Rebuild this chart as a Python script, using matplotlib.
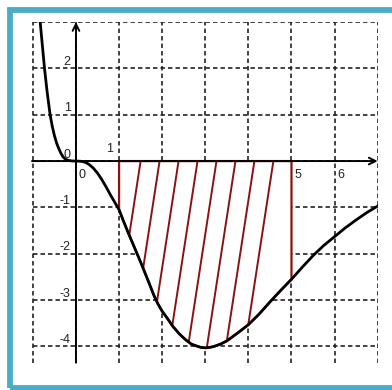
import matplotlib
matplotlib.use("Agg")
import matplotlib.pyplot as plt
from matplotlib.patches import Polygon, Rectangle

plt.rcParams['font.family'] = ['Liberation Sans', 'DejaVu Sans']
plt.rcParams['lines.scale_dashes'] = False

# curve
curve_x = [-0.83, -0.78, -0.73, -0.67, -0.60, -0.55, -0.50, -0.45, -0.40, -0.35, -0.30,
           -0.25, -0.18, -0.10, 0.0, 0.1, 0.2, 0.3, 0.4, 0.5, 0.6, 0.7, 0.8, 0.9,
           1.0, 1.1, 1.2, 1.3, 1.4, 1.5, 1.6, 1.7, 1.8, 1.9, 2.0, 2.14, 2.25, 2.41,
           2.55, 2.68, 2.8, 2.9, 3.0, 3.1, 3.2, 3.35, 3.5, 3.75, 4.0, 4.25, 4.5,
           4.75, 5.0, 5.25, 5.5, 5.75, 6.0, 6.25, 6.5, 6.75, 7.0]
curve_y = [3.0, 2.5, 2.0, 1.5, 1.0, 0.75, 0.55, 0.39, 0.27, 0.17, 0.09,
           0.045, 0.015, 0.003, 0.0, -0.003, -0.02, -0.07, -0.15, -0.26, -0.40, -0.56, -0.73, -0.89,
           -1.05, -1.29, -1.52, -1.74, -1.96, -2.18, -2.41, -2.64, -2.88, -3.08, -3.24, -3.42, -3.57, -3.74,
           -3.86, -3.95, -3.99, -4.02, -4.03, -4.02, -4.0, -3.95, -3.88, -3.71, -3.53, -3.30, -3.04,
           -2.79, -2.55, -2.29, -2.04, -1.82, -1.63, -1.44, -1.27, -1.11, -0.97]

# shaded interval
area_a, area_b = 1.0, 5.0

x_ticks = [1, 5, 6]
y_ticks = [2, 1, 0, -1, -2, -3, -4]

xmin, xmax = -1.02, 7.0
ymin, ymax = -4.35, 3.0

red = '#8b1212'
teal = '#4aacc5'

fig = plt.figure(figsize=(3.92, 3.90), dpi=100)
ax = fig.add_axes([32 / 392, 27.3 / 390, 345.7 / 392, 340.7 / 390])
ax.set_xlim(xmin, xmax)
ax.set_ylim(ymin, ymax)
ax.axis('off')

# dashed grid
for gx in range(-1, 8):
    ax.plot([gx, gx], [ymin, ymax], color='#222222', lw=1.2, dashes=(3.2, 2.2), zorder=1)
for gy in range(-4, 4):
    ax.plot([-1, 7], [gy, gy], color='#222222', lw=1.2, dashes=(3.2, 2.2), zorder=1)

# hatched region between the curve and the x axis
region = [(area_a, 0.0)]
region += [(x, y) for x, y in zip(curve_x, curve_y) if area_a <= x <= area_b]
region += [(area_b, 0.0)]
poly = Polygon(region, closed=True, facecolor='white', edgecolor=red, lw=1.6, zorder=2)
ax.add_patch(poly)

hatch_start, hatch_step, hatch_slope = 1.50, 0.44, 0.165
xt = hatch_start
while xt < area_b - 0.1:
    ln, = ax.plot([xt, xt - hatch_slope * 4.6], [0, -4.6], color=red, lw=1.4, zorder=3)
    ln.set_clip_path(poly)
    xt += hatch_step

# axes with arrows
ax.annotate('', xy=(xmax, 0), xytext=(xmin, 0),
            arrowprops=dict(arrowstyle='->', lw=1.4, color='black',
                            mutation_scale=12, shrinkA=0, shrinkB=0), zorder=4)
ax.annotate('', xy=(0, ymax), xytext=(0, ymin),
            arrowprops=dict(arrowstyle='->', lw=1.4, color='black',
                            mutation_scale=12, shrinkA=0, shrinkB=0), zorder=4)

# the curve
ax.plot(curve_x, curve_y, color='black', lw=2.0, solid_joinstyle='round', zorder=5)

# labels
fs = 9
for v in y_ticks:
    ax.text(-0.12, v + 0.14, str(v), ha='right', va='center', fontsize=fs, color='#222222', zorder=6)
ax.text(0.15, -0.3, '0', ha='center', va='center', fontsize=fs, color='#222222', zorder=6)
ax.text(0.77, 0.25, str(x_ticks[0]), ha='center', va='center', fontsize=fs, color='#222222', zorder=6)
for v in x_ticks[1:]:
    ax.text(v + 0.14, -0.3, str(v), ha='center', va='center', fontsize=fs, color='#222222', zorder=6)

# teal frame
fig.patches.append(Rectangle((10 / 392, 2.5 / 390), 400 / 392, 378 / 390,
                             transform=fig.transFigure, fill=False, edgecolor=teal,
                             lw=4.2, clip_on=False))

fig.savefig('out.png', dpi=100)
